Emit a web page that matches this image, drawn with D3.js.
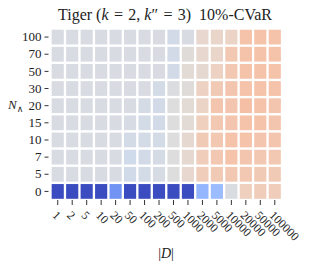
<!DOCTYPE html>
<html>
<head>
<meta charset="utf-8">
<script src="https://cdn.jsdelivr.net/npm/d3@7"></script>
<style>
	body { margin: 0; background: #fff; }
	text { font-family: 'Liberation Serif', 'DejaVu Serif', serif; fill: #222; }
</style>
</head>
<body>
<div id="chart"></div>
<script>
// columns: dataset size |D|, rows: N_wedge
const xLabels = [ '1', '2', '5', '10', '20', '50', '100', '200', '500', '1000', '2000', '5000', '10000', '20000', '50000', '100000' ];
const yLabels = [ '100', '70', '50', '30', '20', '15', '10', '7', '5', '0' ];

// colour position on the coolwarm map (0 = blue, 0.5 = grey, 1 = red)
const row100 = [ 0.48, 0.48, 0.48, 0.48, 0.48, 0.48, 0.48, 0.48, 0.46, 0.48, 0.54, 0.55, 0.56, 0.63, 0.63, 0.63 ];
const row70 = [ 0.48, 0.48, 0.48, 0.48, 0.48, 0.48, 0.48, 0.48, 0.46, 0.51, 0.54, 0.55, 0.61, 0.63, 0.63, 0.63 ];
const row50 = [ 0.48, 0.48, 0.48, 0.48, 0.48, 0.48, 0.48, 0.48, 0.46, 0.52, 0.53, 0.57, 0.61, 0.63, 0.63, 0.63 ];
const row30 = [ 0.48, 0.48, 0.48, 0.48, 0.48, 0.48, 0.48, 0.465, 0.49, 0.51, 0.57, 0.6, 0.62, 0.63, 0.63, 0.63 ];
const row20 = [ 0.48, 0.48, 0.48, 0.48, 0.48, 0.48, 0.47, 0.46, 0.5, 0.52, 0.56, 0.62, 0.62, 0.64, 0.63, 0.62 ];
const row15 = [ 0.48, 0.48, 0.48, 0.48, 0.48, 0.475, 0.465, 0.46, 0.5, 0.52, 0.58, 0.61, 0.62, 0.63, 0.63, 0.62 ];
const row10 = [ 0.48, 0.48, 0.48, 0.48, 0.48, 0.465, 0.465, 0.465, 0.5, 0.53, 0.6, 0.61, 0.63, 0.63, 0.62, 0.62 ];
const row7 = [ 0.48, 0.48, 0.48, 0.48, 0.48, 0.45, 0.46, 0.47, 0.5, 0.53, 0.59, 0.61, 0.63, 0.62, 0.61, 0.61 ];
const row5 = [ 0.48, 0.48, 0.48, 0.48, 0.48, 0.455, 0.465, 0.475, 0.5, 0.54, 0.59, 0.6, 0.61, 0.61, 0.6, 0.6 ];
const row0 = [ 0.0, 0.0, 0.0, 0.0, 0.17, 0.0, 0.0, 0.0, 0.0, 0.0, 0.27, 0.29, 0.485, 0.58, 0.59, 0.59 ];
const rows = [ row100, row70, row50, row30, row20, row15, row10, row7, row5, row0 ];

// matplotlib coolwarm control colours
const coolwarm = [
	'#3b4cc0', '#4d68d7', '#6282ea', '#779af7', '#8db0fe', '#a3c2ff', '#b8d0f9', '#ccd9ee',
	'#dddddd', '#ecd3c5', '#f5c4ac', '#f7b194', '#f49a7b', '#ec7f63', '#de604d', '#cb3e38', '#b40426'
];

const dimensions = {
	width  : 310,
	height : 270,
	margin : { top: 28.5, right: 28, bottom: 70, left: 50.5 }
};
dimensions.boundedWidth = dimensions.width - dimensions.margin.left - dimensions.margin.right;
dimensions.boundedHeight = dimensions.height - dimensions.margin.top - dimensions.margin.bottom;

const svg = d3.select('#chart').append('svg').attr('width', dimensions.width).attr('height', dimensions.height);
const bounds = svg.append('g').attr('transform', `translate(${dimensions.margin.left}, ${dimensions.margin.top})`);

const x = d3.scaleBand().domain(xLabels).range([ 0, dimensions.boundedWidth ]).paddingInner(0.16).paddingOuter(0.08);
const y = d3.scaleBand().domain(yLabels).range([ 0, dimensions.boundedHeight ]).paddingInner(0.14).paddingOuter(0.07);
const color = d3.scaleSequential(d3.piecewise(d3.interpolateRgb, coolwarm)).domain([ 0, 1 ]);

const cells = [];
rows.forEach(function(r, i) {
	r.forEach(function(v, j) {
		cells.push({ row: yLabels[i], col: xLabels[j], value: v });
	});
});

bounds
	.selectAll('rect')
	.data(cells)
	.enter()
	.append('rect')
	.attr('x', (d) => x(d.col))
	.attr('y', (d) => y(d.row))
	.attr('width', x.bandwidth())
	.attr('height', y.bandwidth())
	.attr('fill', (d) => color(d.value));

// y axis
const yAxis = bounds.append('g').attr('transform', 'translate(-2,0)').call(d3.axisLeft(y).tickSize(4).tickPadding(3));
yAxis.attr('font-family', null).attr('font-size', null);
yAxis.select('.domain').remove();
yAxis.selectAll('line').attr('stroke', '#333').attr('stroke-width', 1);
yAxis.selectAll('text').style('font-size', '13px').style('font-family', 'Liberation Serif').attr('fill', '#222');

// x axis
const xAxis = bounds
	.append('g')
	.attr('transform', `translate(0, ${dimensions.boundedHeight})`)
	.call(d3.axisBottom(x).tickSize(5).tickPadding(3));
xAxis.attr('font-family', null).attr('font-size', null);
xAxis.select('.domain').remove();
xAxis.selectAll('line').attr('stroke', '#333').attr('stroke-width', 1);
xAxis
	.selectAll('text')
	.style('font-size', '12px')
	.style('font-family', 'Liberation Serif')
	.attr('fill', '#222')
	.attr('text-anchor', 'start')
	.attr('x', 0)
	.attr('y', 0)
	.attr('dy', 0)
	.attr('transform', 'translate(-6, 16) rotate(45)');

// title
const title = svg.append('text').attr('x', 165).attr('y', 20).attr('text-anchor', 'middle').style('font-size', '16px');
title.append('tspan').text('Tiger (');
title.append('tspan').attr('font-style', 'italic').text('k');
title.append('tspan').text('\u2004=\u20042, ');
title.append('tspan').attr('font-style', 'italic').text('k');
title.append('tspan').text('\u2033\u2004=\u20043)\u00a0\u00a010%-CVaR');

// axis labels
const xLabel = svg.append('text').attr('x', 166).attr('y', 258).attr('text-anchor', 'middle').style('font-size', '14px');
xLabel.append('tspan').text('|');
xLabel.append('tspan').attr('font-style', 'italic').text('D');
xLabel.append('tspan').text('|');

const yLabel = svg.append('text').attr('x', 8).attr('y', 109).style('font-size', '13px');
yLabel.append('tspan').attr('font-style', 'italic').text('N');
yLabel.append('tspan').style('font-size', '9px').attr('dy', 3).text('\u2227');
</script>
</body>
</html>
